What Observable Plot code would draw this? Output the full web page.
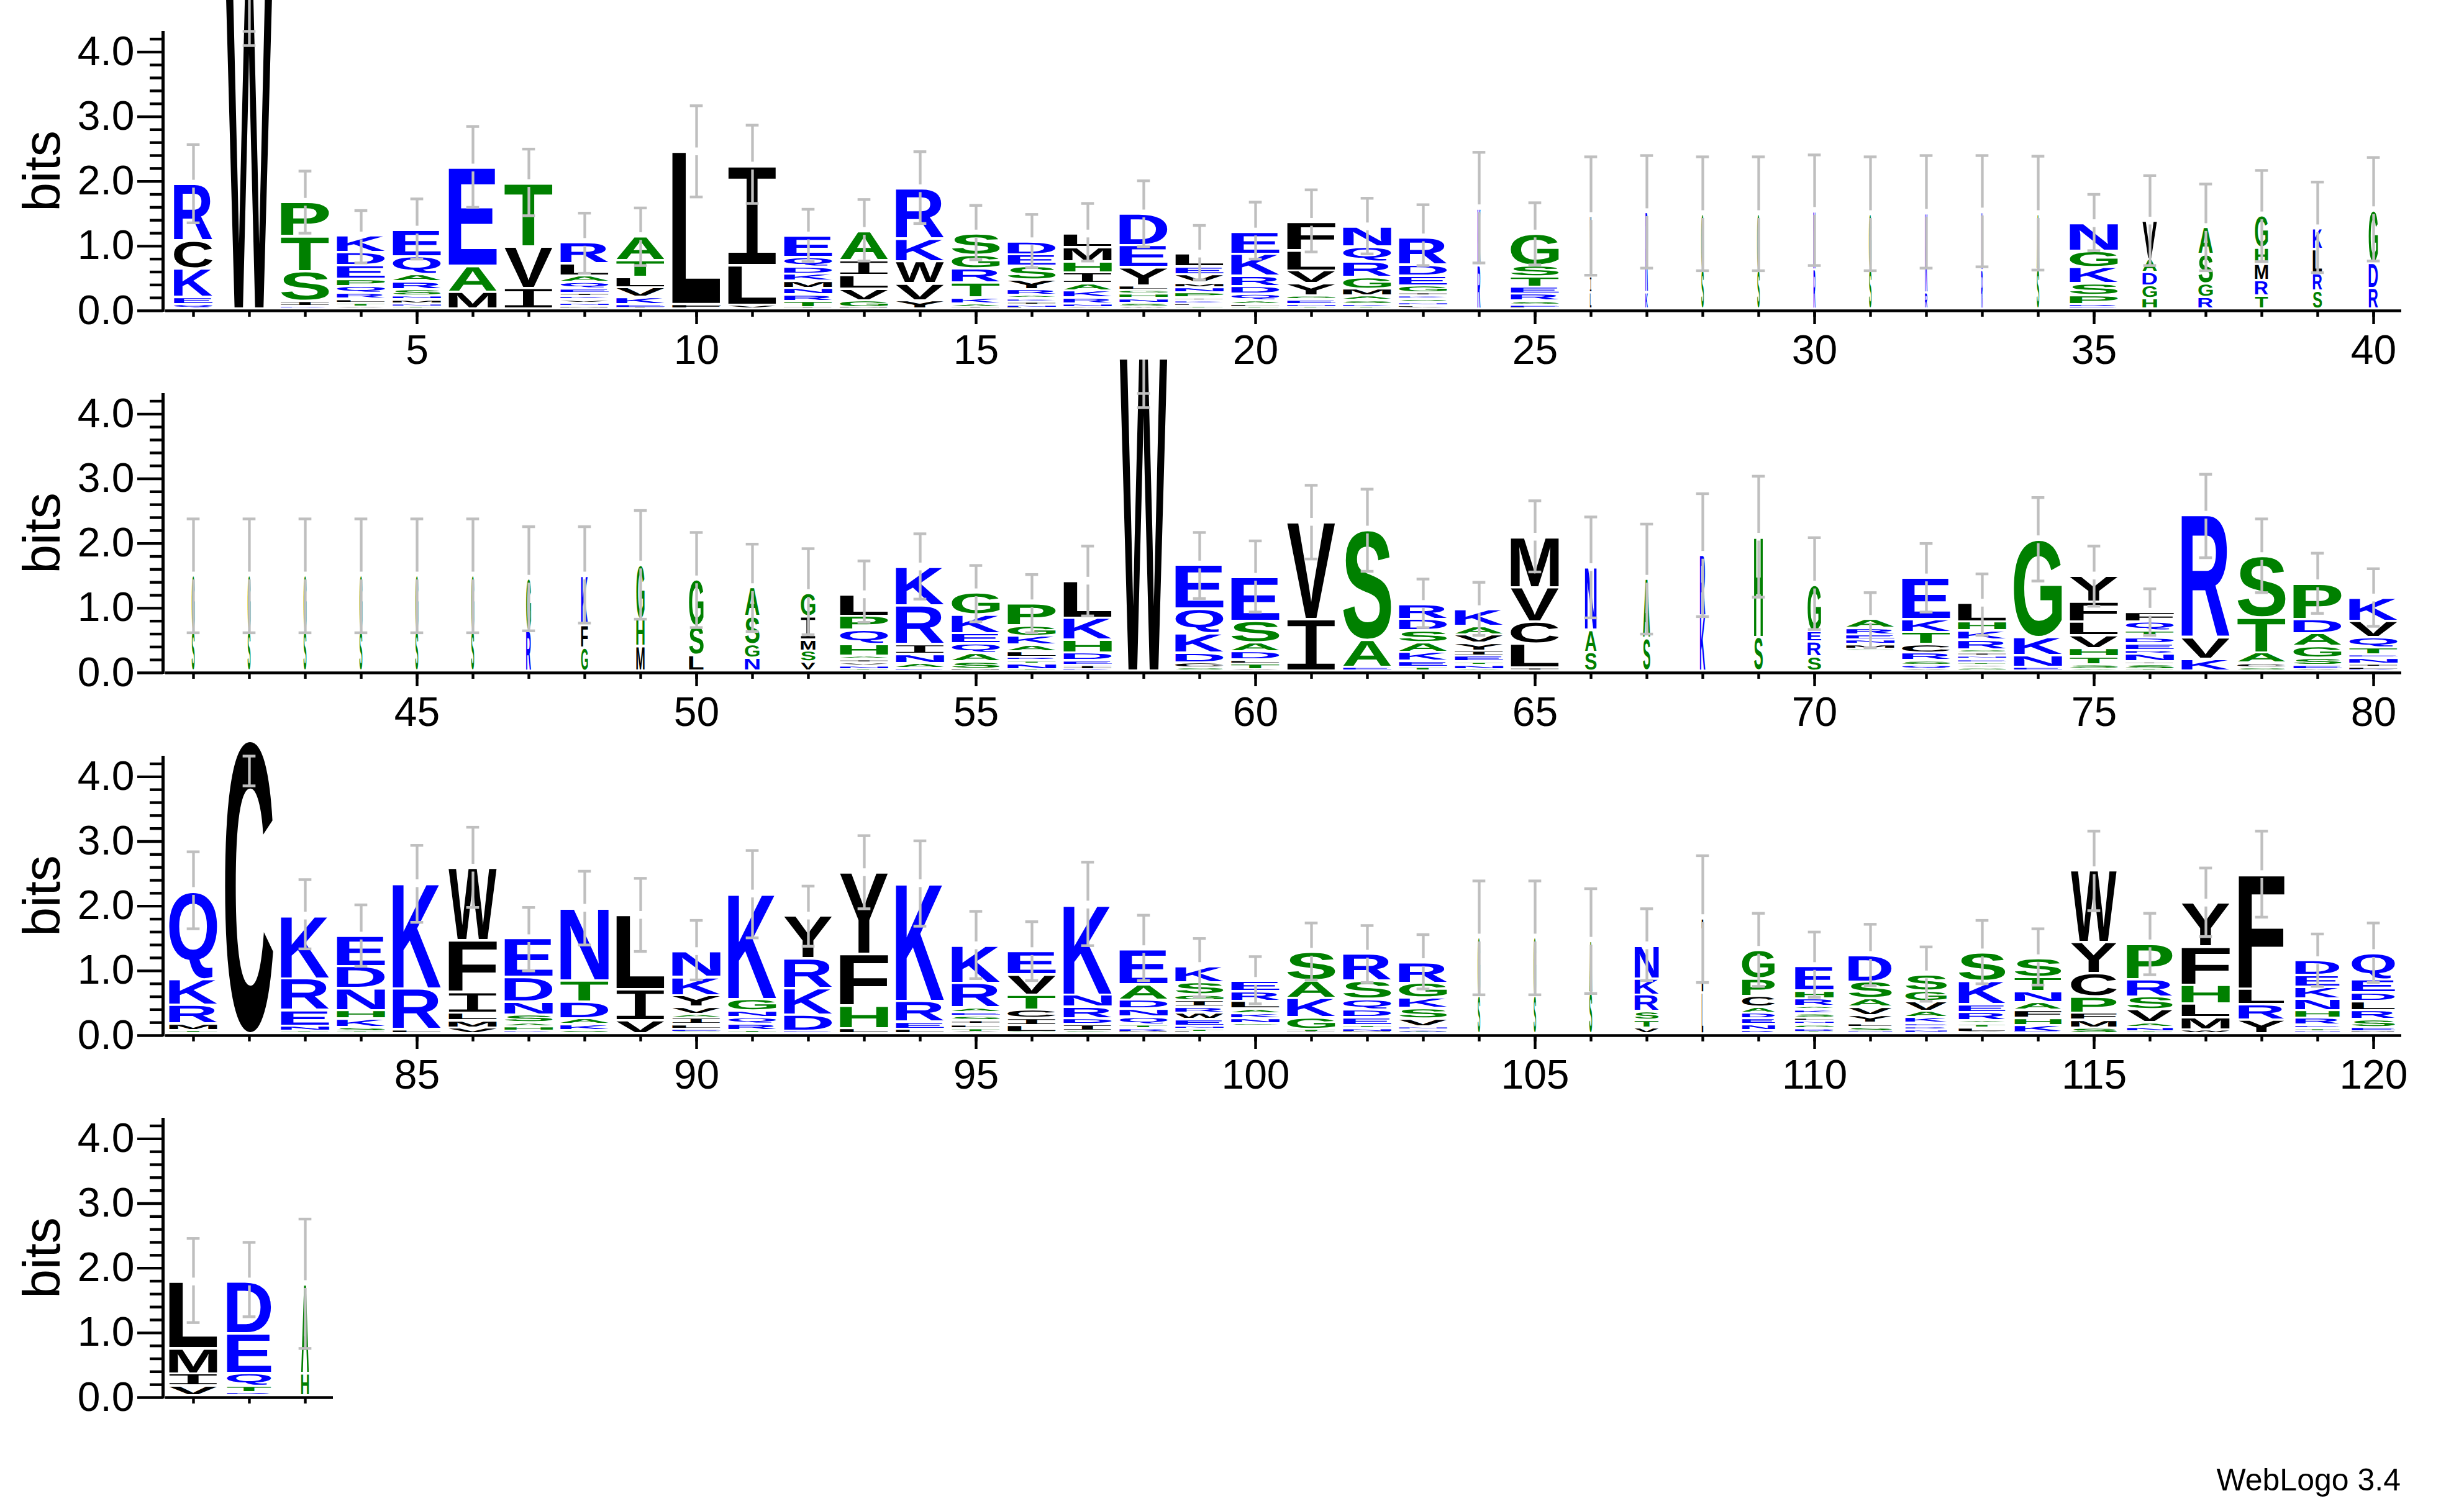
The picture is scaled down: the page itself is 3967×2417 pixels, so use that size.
<!DOCTYPE html>
<html><head><meta charset="utf-8">
<script src="https://cdn.jsdelivr.net/npm/d3@7"></script>
<script src="https://cdn.jsdelivr.net/npm/@observablehq/plot@0.6"></script>
<style>
html,body{margin:0;padding:0;background:#fff}
#page{position:relative;width:3967px;height:2417px;overflow:hidden;background:#fff;font-family:"Liberation Sans"}
#page svg{position:absolute;left:0;background:transparent;overflow:hidden}
#credit{position:absolute;right:102px;top:2358px;font-size:50px;line-height:1;color:#000}
</style></head><body><div id="page"></div>
<script>
// Letter heights per position, top of the stack first. "_" is an empty gap.
const stacks = [
"R.88 C.43 K.44 E.11 Q.07","W5.0","P.53 T.54 S.46 I.08 R.04","K.26 D.20 E.21 P.11 Q.11 R.09 L.06 T.06 V.03","E.41 Q.28 A.11 R.12 S.10 N.06 M.06 N.05 T.03",
"E1.52 A.40 M.26","T.98 V.64 I.32","R.33 L.19 A.10 Q.10 E.07 I.05 K.05 V.05 N.05 M.04","A.37 T.26 L.16 V.15 K.11 E.06 I.01","L2.36 F.07",
"I1.54 L.61 V.06","E.33 Q.15 D.11 K.11 M.11 N.10 R.10 T.10 I.02","A.45 I.23 L.21 V.18 G.11 M.02","R.78 K.35 W.34 V.26 Y.13","S.33 G.21 R.22 T.23 K.09 A.06 I.02",
"D.20 E.18 S.21 Y.15 R.09 A.05 K.05 I.05 N.05 L.01","L.21 M.22 H.17 I.17 A.11 K.11 R.09 N.06 V.02","D.49 E.34 Y.28 L.07 G.06 H.07 N.07 S.06 W.03","L.20 E.12 V.13 M.07 N.08 P.08 I.04 K.05 L.04 T.04","E.34 K.34 R.16 D.12 Q.10 A.06 L.05 T.02",
"F.44 L.31 V.20 Y.19 G.06 E.07 N.05 T.02","N.31 Q.23 R.24 G.18 M.11 A.07 S.06 K.05 T.02","R.42 D.17 E.15 G.11 I.05 K.05 S.05 N.05 L.04 V.01","K.88 R.67","G.49 S.17 T.16 E.11 R.11 S.06 E.05 L.01",
"V.93 I.25 L.25","R1.24 K.25","G.85 S.61","G.86 S.60","N.90 R.61",
"G.85 S.61","K1.23 R.25","N.90 R.60","A.85 S.61","N.43 G.25 K.25 S.18 P.14 R.05 E.02",
"V.59 A.20 D.21 G.20 H.16","A.42 S.45 G.21 R.18","G.50 H.25 M.25 R.24 T.20","K.32 L.37 R.27 S.28","G.81 D.39 R.32",
"G.85 S.62","G.85 S.62","G.85 S.62","G.85 S.62","G.85 S.62",
"G.85 S.62","G.80 R.62","K.76 F.35 G.36","G.84 H.42 M.38","G.72 S.45 L.24",
"A.45 S.43 G.21 N.20","G.36 I.36 M.17 S.17 V.14","L.33 P.22 Q.22 H.18 A.05 I.05 V.05 N.06 T.02","K.60 R.60 I.15 N.14 A.08 E.04","G.34 K.29 E.16 Q.15 A.13 S.11 M.03",
"P.34 G.16 K.14 A.10 L.09 R.05 T.05 N.09 T.02","L.57 K.34 H.20 D.12 E.07 I.07 R.02","W5.0","E.68 Q.38 K.30 D.15 C.08 S.05","E.68 S.33 A.14 D.13 L.06 T.09 V.02",
"V1.50 I.80","S1.70 A.42 E.06","R.23 D.18 S.18 A.15 K.14 E.09 T.06","K.26 A.13 V.13 Y.12 I.08 E.09 T.05 N.07 A.02","M.78 V.53 C.34 L.37 I.05",
"N.97 A.34 S.29","A.92 S.50","R.94 K.85","H1.55 S.52","G.72 E.16 R.23 S.22",
"A.14 R.10 E.08 N.07 M.07 G.04 _.30","E.64 K.20 T.19 C.13 R.12 S.07 Q.07 V.02","L.29 H.14 K.14 R.15 S.05 I.05 N.05 E.05 T.04 V.04 G.05","G1.51 K.28 N.18 E.06","Y.40 F.31 L.21 V.20 H.13 T.12 S.07 A.03",
"F.15 Q.14 T.11 D.09 E.10 R.06 N.12 I.04 S.08 T.02","R1.90 V.33 K.18","S.95 T.54 A.16 C.07 S.05","P.55 D.22 A.20 G.18 S.11 E.07 V.02","K.36 V.25 Q.16 T.11 E.05 N.09 I.05 L.05 R.01",
"Q1.36 K.40 R.29 M.10 T.05","C4.53","K.97 R.49 E.24 N.08 T.04","E.47 D.34 N.34 H.13 K.13 S.07 T.03","K1.63 R.63 L.06",
"W1.12 F.80 I.32 L.12 M.11 V.09","E.60 D.38 N.20 S.12 A.06 H.07 R.04","N1.12 T.33 D.26 A.09 K.09 S.05","L1.15 I.48 V.20","N.40 K.28 Y.18 V.11 A.06 I.10 L.07 E.05 G.02",
"K1.63 G.18 N.10 Q.10 R.10 T.05","Y.66 R.46 K.41 D.25 E.04","Y1.26 F.80 H.35 L.08","K1.82 R.32 E.11 L.07","K.58 R.38 A.07 E.06 S.07 I.06 L.06 T.06 V.02",
"E.36 V.31 T.23 C.13 I.11 L.11 G.02","K1.39 N.19 R.18 D.09 I.10 S.04","E.54 A.24 D.14 N.12 Q.12 T.06 R.06 M.02","K.25 S.19 G.09 I.10 R.09 W.10 E.10 N.05 T.05 L.02","E.16 R.15 L.12 A.07 K.08 N.08 S.03 _.12",
"S.44 A.27 K.30 G.18 T.05 I.02","R.42 S.28 Q.16 D.12 E.12 T.05 N.06 M.02","R.32 G.23 K.16 S.16 V.12 N.05 Q.05 T.01","G.90 S.58","G.90 S.58",
"A.80 S.63","N.51 K.25 R.26 S.13 T.12 V.09","I1.15 L.63","G.44 P.27 C.17 A.09 D.09 E.09 N.09 R.05","E.38 H.12 R.12 A.05 K.06 S.07 L.05 N.05 G.06 D.06 T.02",
"D.41 S.26 A.13 V.13 Y.12 L.06 S.07 N.03","S.25 G.16 V.15 A.10 K.09 E.05 R.05 N.05 D.01","S.44 K.36 E.12 R.13 A.05 T.06 L.07 V.02","S.29 T.22 N.17 A.12 F.12 H.11 K.11 E.02","W1.11 Y.48 C.36 P.25 F.11 M.12 S.09",
"P.55 R.27 S.20 V.20 A.07 N.07 T.03","Y.68 F.59 H.29 L.21 M.19 W.06","F1.77 L.24 R.24 Y.21","D.23 E.18 K.18 N.18 H.12 R.11 E.05 T.05 N.03","Q.41 E.20 D.13 L.14 R.14 S.12 E.07 M.03",
"L1.03 M.39 I.19 V.15","D.80 E.61 Q.20 T.10 R.05","A1.38 H.34"
];
const widths = [
.8,.97,1,1,1,1,1,1,1,1,1,1,1,1,1,1,1,1,1,1,1,1,1,.06,1,.03,.05,.05,.05,.04,.05,.05,.03,.05,1,.3,.3,.27,.19,.19,
.06,.06,.06,.06,.06,.06,.1,.14,.17,.3,.3,.3,1,1,1,1,1,1,1,1,1,1,1,1,1,.24,.15,.11,.18,.28,1,1,1,1,1,1,1,1,1,1,
1,1,1,1,1,1,1,1,1,1,1,1,1,1,1,1,1,1,1,1,1,1,1,.05,.05,.06,.5,.03,.68,.8,.9,.86,.97,.97,.95,.95,1,.95,.92,.9,
1,.92,.16
];
const errHigh = [
2.57,5.1,2.16,1.55,1.73,2.85,2.50,1.51,1.59,3.17,2.87,1.57,1.72,2.46,1.63,1.49,1.66,2.01,1.32,1.68,1.87,1.74,1.64,2.45,1.67,2.38,2.40,2.38,2.38,2.41,2.38,2.40,2.40,2.39,1.80,2.09,1.96,2.17,1.99,2.37,
2.38,2.38,2.38,2.38,2.38,2.38,2.26,2.26,2.51,2.17,1.99,1.92,1.73,2.15,1.66,1.52,1.96,5.1,2.17,2.04,2.90,2.84,1.45,1.40,2.66,2.41,2.30,2.77,3.04,2.09,1.24,2.00,1.53,2.71,1.96,1.30,3.07,2.38,1.85,1.61,
2.84,4.32,2.41,2.02,2.94,3.22,1.98,2.54,2.43,1.78,2.86,2.31,3.09,3.01,1.92,1.76,2.68,1.86,1.50,1.22,1.74,1.70,1.56,2.39,2.39,2.27,1.96,2.78,1.89,1.60,1.72,1.37,1.78,1.65,3.16,1.89,2.59,3.16,1.57,1.74,
2.46,2.40,2.76
];
const errLow = [
1.36,4.10,1.20,.74,.80,1.60,1.47,.58,.70,1.76,1.66,.76,.77,1.35,.79,.67,.77,.99,.48,.80,.91,.88,.70,.74,.71,.55,.66,.62,.62,.70,.62,.66,.68,.63,.93,.70,.62,.76,.59,.77,
.62,.62,.62,.62,.62,.62,.65,.77,.83,.70,.64,.59,.78,1.14,.79,.62,.88,4.10,1.15,.94,1.76,1.57,.70,.58,1.56,.85,.60,.87,1.17,.67,.39,.94,.58,1.42,1.03,.58,1.78,1.24,.92,.72,
1.65,3.86,1.34,1.07,1.75,1.98,1.00,1.40,1.30,.86,1.51,1.38,1.96,1.69,.88,.85,1.39,.85,.60,.49,.86,.82,.72,.63,.63,.65,.85,.82,.76,.59,.77,.53,.80,.78,1.93,.94,1.53,1.83,.76,.82,
1.16,1.25,.76
];
const letterGroups = [["DEKNQR","#0000ff"],["AGHPST","#008000"],["CFILMVWY","#000000"]];
const rowStarts = [1,41,81,121];
const rowLengths = [40,40,40,3];
const rowBaselines = [500,1083.3,1666.7,2250];
const majorY = [0,1,2,3,4];
const minorY = [.2,.4,.6,.8,1.2,1.4,1.6,1.8,2.2,2.4,2.6,2.8,3.2,3.4,3.6,3.8,4.2];
const yTop = 4.32;

const FONT = "Liberation Sans";
const fontOf = l => l === "I" ? "Liberation Mono" : FONT;
const weightOf = l => l === "I" ? "normal" : "bold";
const colorOf = l => letterGroups.find(g => g[0].includes(l))[1];
const ctx = document.createElement("canvas").getContext("2d");
const metrics = {};
const inkOf = l => {
  if (!metrics[l]) { ctx.font = `${weightOf(l)} 200px "${fontOf(l)}"`; metrics[l] = ctx.measureText(l); }
  return metrics[l];
};

const GAP = 0.035, START = 0.03, HALF = 0.43;
const glyphs = [], bars = [];
stacks.forEach((s, i) => {
  const pos = i + 1;
  let top = START;
  s.split(" ").reverse().forEach(tok => {
    const letter = tok[0], v = +tok.slice(1);
    if (letter !== "_") glyphs.push({
      pos, letter,
      x1: pos - widths[i] * HALF, x2: pos + widths[i] * HALF,
      y1: top + GAP / 2, y2: Math.max(top + v - GAP / 2, top + GAP / 2 + 0.006)
    });
    top += v;
  });
  bars.push({pos, top, high: errHigh[i], low: errLow[i]});
});

// Draws each rect of the mark as a letter stretched so that its ink fills the rect.
function letterRender(data) {
  return function (index, scales, values) {
    const g = d3.create("svg:g").attr("text-anchor", "start");
    for (const i of index) {
      const d = data[i], m = inkOf(d.letter);
      const inkW = m.actualBoundingBoxLeft + m.actualBoundingBoxRight;
      const inkH = m.actualBoundingBoxAscent + m.actualBoundingBoxDescent;
      const X1 = values.x1[i], X2 = values.x2[i], Yb = values.y1[i], Yt = values.y2[i];
      const sx = (X2 - X1) / inkW, sy = (Yb - Yt) / inkH;
      const t = g.append("text")
        .attr("font-family", fontOf(d.letter)).attr("font-weight", weightOf(d.letter)).attr("font-size", 200)
        .attr("text-rendering", "geometricPrecision")
        .attr("fill", colorOf(d.letter))
        .attr("transform", `translate(${X1 + m.actualBoundingBoxLeft * sx},${Yb - m.actualBoundingBoxDescent * sy}) scale(${sx},${sy})`)
        .text(d.letter);
      // Tiny or very narrow letters keep a solid colour instead of fading out.
      if (Yb - Yt < 6 || X2 - X1 < 10) {
        t.attr("stroke", colorOf(d.letter)).attr("stroke-width", 0.8).attr("vector-effect", "non-scaling-stroke");
      }
    }
    return g.node();
  };
}

const page = document.getElementById("page");
const BLACK = "#000", GRAY = "#bfbfbf", SW = 4.4, BARW = 4.3;
rowStarts.forEach((start, r) => {
  const last = start + rowLengths[r] - 1;
  const rowGlyphs = glyphs.filter(d => d.pos >= start && d.pos <= last);
  const rowBars = bars.filter(d => d.pos >= start && d.pos <= last);
  const hasGap = d => d.top + .06 < d.high && d.top - .06 > d.low;
  const upper = rowBars.map(d => ({pos: d.pos, y1: hasGap(d) ? d.top + .06 : d.low, y2: d.high}));
  const lower = rowBars.filter(hasGap).map(d => ({pos: d.pos, y1: d.low, y2: d.top - .06}));
  const caps = rowBars.flatMap(d => [{pos: d.pos, y: d.low}, {pos: d.pos, y: Math.min(d.high, yTop)}]);
  const positions = d3.range(start, last + 1);
  const majorX = positions.filter(p => p % 5 === 0);

  const svg = Plot.plot({
    width: 3967, height: 604,
    marginLeft: 266, marginRight: 101, marginTop: 54, marginBottom: 100,
    x: {domain: [start - .5, start + 39.5], axis: null},
    y: {domain: [0, yTop], axis: null},
    style: {fontFamily: FONT, background: "transparent", color: BLACK},
    marks: [
      Plot.rect(rowGlyphs, {x1: "x1", x2: "x2", y1: "y1", y2: "y2", render: letterRender(rowGlyphs)}),
      Plot.ruleX(upper, {x: "pos", y1: "y1", y2: "y2", stroke: GRAY, strokeWidth: BARW}),
      Plot.ruleX(lower, {x: "pos", y1: "y1", y2: "y2", stroke: GRAY, strokeWidth: BARW}),
      Plot.ruleY(caps, {y: "y", x1: d => d.pos - .115, x2: d => d.pos + .115, stroke: GRAY, strokeWidth: 4.4}),
      Plot.ruleY([0], {x1: start - .5, x2: last + .5, stroke: BLACK, strokeWidth: SW}),
      Plot.ruleX([start - .5], {y1: -0.02, y2: yTop, dx: -4, stroke: BLACK, strokeWidth: 5}),
      Plot.axisY({ticks: majorY, tickFormat: ".1f", tickSize: 41, tickPadding: 5, dx: -4, strokeWidth: SW, fontSize: 66, label: null, color: BLACK}),
      Plot.axisY({ticks: minorY, tickSize: 21, dx: -4, strokeWidth: SW, fill: "none", stroke: BLACK, label: null}),
      Plot.axisX({ticks: positions, tickSize: 10, strokeWidth: SW, fill: "none", stroke: BLACK, label: null}),
      ...(majorX.length ? [Plot.axisX({ticks: majorX, tickFormat: "d", tickSize: 22, tickPadding: 17, strokeWidth: SW, fontSize: 66, label: null, color: BLACK})] : []),
      Plot.text(["bits"], {frameAnchor: "left", rotate: -90, fontSize: 84, dx: -171, lineAnchor: "bottom", textAnchor: "middle", fill: BLACK})
    ]
  });
  svg.style.top = (rowBaselines[r] - 504) + "px";
  page.appendChild(svg);
});
const credit = document.createElement("div");
credit.id = "credit";
credit.textContent = "WebLogo 3.4";
page.appendChild(credit);
</script></body></html>
